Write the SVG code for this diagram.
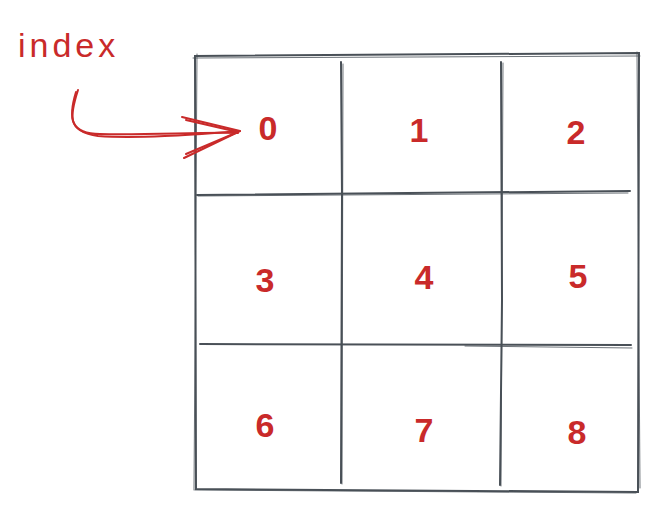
<svg xmlns="http://www.w3.org/2000/svg" width="660" height="512" viewBox="0 0 660 512">
<style>
.ln{fill:none;stroke:#495057;stroke-width:2;stroke-linecap:round}
.ln2{fill:none;stroke:#495057;stroke-width:1;stroke-linecap:round;opacity:0.8}
.red{fill:none;stroke:#c92a2a;stroke-width:2;stroke-linecap:round;stroke-linejoin:round}
.num{font-family:"Liberation Sans",sans-serif;font-size:34px;font-weight:bold;fill:#c92a2a;text-anchor:middle}
.lbl{font-family:"Liberation Sans",sans-serif;font-size:34px;fill:#c92a2a;letter-spacing:4px}
</style>
<rect width="660" height="512" fill="#ffffff"/>
<g id="grid">
<path class="ln" d="M195 56 L639 53 L638 492 L196 489 Z"/>
<path class="ln2" d="M193 58 L640 56 M637 52 L640 488 M195 490 L636 493 M197 54 L194 490"/>
<path class="ln" d="M341 62 L342 195 L341 483"/>
<path class="ln2" d="M343 64 L342 484"/>
<path class="ln" d="M501 62 L502 300 L500 485"/>
<path class="ln2" d="M503 63 L501 486"/>
<path class="ln" d="M197 195 L630 191"/>
<path class="ln2" d="M198 196 L628 193"/>
<path class="ln" d="M200 344 L631 345"/>
<path class="ln2" d="M465 346 L632 348"/>
</g>
<g id="cells">
<text class="num" x="268" y="140">0</text>
<text class="num" x="419" y="142">1</text>
<text class="num" x="576" y="144">2</text>
<text class="num" x="265" y="292">3</text>
<text class="num" x="424" y="289">4</text>
<text class="num" x="578" y="288">5</text>
<text class="num" x="265" y="437">6</text>
<text class="num" x="424" y="442">7</text>
<text class="num" x="577" y="444">8</text>
</g>
<g id="label">
<text class="lbl" x="18" y="57">index</text>
</g>
<g id="connectors">
<path class="red" d="M78 90 C70 115 66 132 98 136 C140 139 200 134 240 131"/>
<path class="red" d="M76 92 C68 118 70 134 100 134 C150 135 200 132 238 133"/>
<path class="red" d="M182 117 L240 131 L184 158"/>
<path class="red" d="M186 120 L238 132 L186 154"/>
</g>
</svg>
